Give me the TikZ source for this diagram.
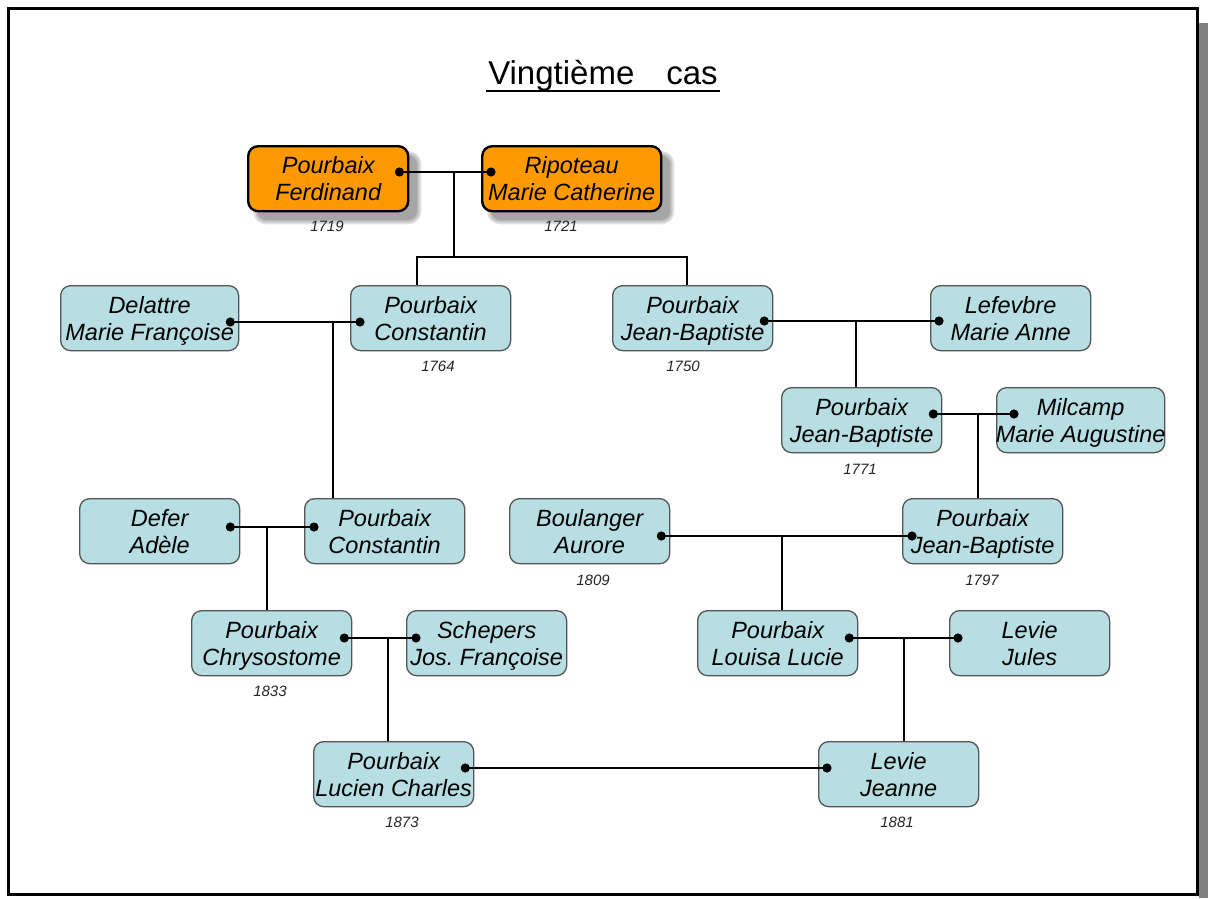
\documentclass[tikz,border=0pt]{standalone}
\usepackage{fontspec}
\setmainfont{Liberation Sans}
\usetikzlibrary{calc}

\definecolor{boxteal}{RGB}{183,223,227}
\definecolor{boxorange}{RGB}{255,153,0}
\definecolor{boxedge}{RGB}{85,85,85}
\definecolor{frameshadow}{RGB}{128,128,128}

\pgfdeclarelayer{shadow}
\pgfsetlayers{shadow,main}

\tikzset{
  nametext/.style={align=center, inner sep=0pt, yshift=-3pt,
    font=\itshape\fontsize{23.5}{27}\selectfont,
    execute at begin node={\rule{0pt}{32pt}},
    execute at end node={\rule[-6pt]{0pt}{6pt}}},
  person/.style={draw=boxedge, line width=1.3pt, fill=boxteal, rounded corners=10pt,
    anchor=north west, minimum width=160pt, minimum height=65pt, inner sep=0pt,
    label={[nametext]center:#1}},
  ancestor/.style={person=#1, draw=black, line width=2.4pt, fill=boxorange},
  year/.style={font=\itshape\fontsize{15}{18}\selectfont, text=black!85, inner sep=0pt},
  link/.style={line width=2.4pt, black},
  dot/.style={fill=black},
}

\begin{document}
\begin{tikzpicture}[x=1pt, y=-1pt]
\useasboundingbox (0,0) rectangle (1208,898);

% page frame with its shadow
\fill[frameshadow] (1199,23) rectangle (1208,898);
\draw[line width=3pt] (8.5,8.5) rectangle (1197.5,894.5);

% title
\node[anchor=base, inner sep=0pt, font=\fontsize{33}{40}\selectfont] (title) at (603,84)
  {Vingtième\hspace{32pt}cas};
\draw[line width=2pt] ($(title.base west)+(-2,7)$) -- ($(title.base east)+(2,7)$);

% people
\node[ancestor={Pourbaix\\Ferdinand}] (ferd) at (247,145) {};
\node[ancestor={Ripoteau\\Marie Catherine}, minimum width=179pt] (ripo) at (481,145) {};

\node[person={Delattre\\Marie Françoise}, minimum width=178pt] (dela) at (60,285) {};
\node[person={Pourbaix\\Constantin}] (constA) at (350,285) {};
\node[person={Pourbaix\\Jean-Baptiste}] (jbA) at (612,285) {};
\node[person={Lefevbre\\Marie Anne}] (lefe) at (930,285) {};

\node[person={Pourbaix\\Jean-Baptiste}] (jbB) at (781,387) {};
\node[person={Milcamp\\Marie Augustine}, minimum width=168pt] (milc) at (996,387) {};

\node[person={Defer\\Adèle}] (defer) at (79,498) {};
\node[person={Pourbaix\\Constantin}] (constB) at (304,498) {};
\node[person={Boulanger\\Aurore}] (boul) at (509,498) {};
\node[person={Pourbaix\\Jean-Baptiste}] (jbC) at (902,498) {};

\node[person={Pourbaix\\Chrysostome}] (chrys) at (191,610) {};
\node[person={Schepers\\Jos.\ Françoise}] (schep) at (406,610) {};
\node[person={Pourbaix\\Louisa Lucie}] (louisa) at (697,610) {};
\node[person={Levie\\Jules}] (jules) at (949,610) {};

\node[person={Pourbaix\\Lucien Charles}] (lucien) at (313,741) {};
\node[person={Levie\\Jeanne}] (jeanne) at (818,741) {};

% birth years
\node[year] (y1719) at (327,226.5) {1719};
\node[year] (y1721) at (561,226.5) {1721};
\node[year] (y1764) at (438,366.5) {1764};
\node[year] (y1750) at (683,366.5) {1750};
\node[year] (y1771) at (860,469) {1771};
\node[year] (y1809) at (593,580) {1809};
\node[year] (y1797) at (982,580) {1797};
\node[year] (y1833) at (270,691.5) {1833};
\node[year] (y1873) at (402,822.5) {1873};
\node[year] (y1881) at (897,822.5) {1881};

% soft shadows of the ancestor boxes
\begin{pgfonlayer}{shadow}
  \foreach \n in {ferd,ripo}{
    \fill[black, opacity=0.12, rounded corners=13pt] ($(\n.north west)+(6,6)$) rectangle ($(\n.south east)+(12,12)$);
    \fill[black, opacity=0.13, rounded corners=11pt] ($(\n.north west)+(8,8)$) rectangle ($(\n.south east)+(10,10)$);
    \fill[black, opacity=0.15, rounded corners=10pt] ($(\n.north west)+(10,10)$) rectangle ($(\n.south east)+(8,8)$);
  }
\end{pgfonlayer}

% marriage points
\coordinate (ferdD)   at ($(ferd.north east)+(-10,27)$);
\coordinate (ripoD)   at ($(ripo.north west)+(10,27)$);
\coordinate (delaD)   at ($(dela.north east)+(-9,37)$);
\coordinate (constAD) at ($(constA.north west)+(10,37)$);
\coordinate (jbAD)    at ($(jbA.north east)+(-9,36)$);
\coordinate (lefeD)   at ($(lefe.north west)+(9,36)$);
\coordinate (jbBD)    at ($(jbB.north east)+(-9,27)$);
\coordinate (milcD)   at ($(milc.north west)+(18,27)$);
\coordinate (deferD)  at ($(defer.north east)+(-10,29)$);
\coordinate (constBD) at ($(constB.north west)+(10,29)$);
\coordinate (boulD)   at ($(boul.north east)+(-9,38)$);
\coordinate (jbCD)    at ($(jbC.north west)+(10,38)$);
\coordinate (chrysD)  at ($(chrys.north east)+(-8,28)$);
\coordinate (schepD)  at ($(schep.north west)+(10,28)$);
\coordinate (louisaD) at ($(louisa.north east)+(-9,28)$);
\coordinate (julesD)  at ($(jules.north west)+(9,28)$);
\coordinate (lucienD) at ($(lucien.north east)+(-9,27)$);
\coordinate (jeanneD) at ($(jeanne.north west)+(9,27)$);

% couples
\draw[link] (ferdD) -- (ripoD);
\draw[link] (delaD) -- (constAD);
\draw[link] (jbAD) -- (lefeD);
\draw[link] (jbBD) -- (milcD);
\draw[link] (deferD) -- (constBD);
\draw[link] (boulD) -- (jbCD);
\draw[link] (chrysD) -- (schepD);
\draw[link] (louisaD) -- (julesD);
\draw[link] (lucienD) -- (jeanneD);

% descent lines
\draw[link] (454,0 |- ferdD) -- (454,257);
\draw[link] (417,0 |- constA.north) -- (417,257) -- (687,257) -- (687,0 |- jbA.north);
\draw[link] (333,0 |- delaD) -- (333,0 |- constB.north);
\draw[link] (856,0 |- jbAD) -- (856,0 |- jbB.north);
\draw[link] (978,0 |- jbBD) -- (978,0 |- jbC.north);
\draw[link] (267,0 |- deferD) -- (267,0 |- chrys.north);
\draw[link] (782,0 |- boulD) -- (782,0 |- louisa.north);
\draw[link] (388,0 |- chrysD) -- (388,0 |- lucien.north);
\draw[link] (904,0 |- louisaD) -- (904,0 |- jeanne.north);

% dots
\foreach \c in {ferdD,ripoD,delaD,constAD,jbAD,lefeD,jbBD,milcD,deferD,constBD,
                boulD,jbCD,chrysD,schepD,louisaD,julesD,lucienD,jeanneD}
  \fill[dot] (\c) circle (4.6pt);
\end{tikzpicture}
\end{document}
